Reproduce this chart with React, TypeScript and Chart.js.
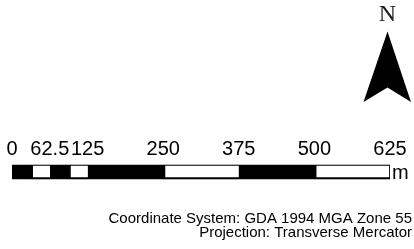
import React, { useEffect, useRef } from "react";
import { Chart, registerables } from "chart.js";

Chart.register(...registerables);

// Scale bar data (metres)
const tickValues: number[] = [0, 62.5, 125, 250, 375, 500, 625];
const tickLabels: string[] = ["0", "62.5", "125", "250", "375", "500", "625"];
const barExtent: [number, number] = [0, 625];
const whiteSegments: [number, number][] = [
  [31.25, 62.5],
  [93.75, 125],
  [250, 375],
  [500, 625],
];
const unitLabel = "m";
const northLabel = "N";
const footerLines: string[] = [
  "Coordinate System: GDA 1994 MGA Zone 55",
  "Projection: Transverse Mercator",
];

const decorPlugin = {
  id: "decor",
  afterDraw(chart: any) {
    const ctx = chart.ctx as CanvasRenderingContext2D;
    const xs = chart.scales.x;
    ctx.save();
    ctx.fillStyle = "#000";
    ctx.textBaseline = "alphabetic";

    // tick labels placed through the x scale
    ctx.font = '20px "Liberation Sans", Arial, sans-serif';
    ctx.textAlign = "center";
    tickValues.forEach((v, i) => {
      ctx.fillText(tickLabels[i], xs.getPixelForValue(v), 155);
    });

    // unit label
    ctx.textAlign = "left";
    ctx.fillText(unitLabel, xs.getPixelForValue(barExtent[1]) + 2, 179);

    // north arrow
    ctx.beginPath();
    ctx.moveTo(387.5, 31.5);
    ctx.lineTo(411, 102);
    ctx.lineTo(387.5, 87.5);
    ctx.lineTo(363.5, 102);
    ctx.closePath();
    ctx.fill();
    ctx.font = '24px "Liberation Serif", "Times New Roman", serif';
    ctx.textAlign = "center";
    ctx.fillStyle = "#222";
    ctx.fillText(northLabel, 387.5, 21);

    // footer
    ctx.font = '15px "Liberation Sans", Arial, sans-serif';
    ctx.textAlign = "right";
    ctx.fillStyle = "#000";
    ctx.fillText(footerLines[0], 412, 223);
    ctx.fillText(footerLines[1], 412, 237);
    ctx.restore();
  },
};

export default function App() {
  const ref = useRef<HTMLCanvasElement | null>(null);
  useEffect(() => {
    document.body.style.margin = "0";
    const canvas = ref.current;
    if (!canvas) return;
    const datasets: any[] = [
      {
        label: "base",
        data: [barExtent],
        backgroundColor: "#000",
        borderWidth: 0,
        barThickness: 14,
        grouped: false,
        order: 2,
      },
      ...whiteSegments.map((seg, i) => ({
        label: "w" + i,
        data: [seg],
        backgroundColor: "#fff",
        borderColor: "#000",
        borderSkipped: false,
        borderWidth: {
          left: 2.4,
          top: 1.2,
          bottom: 2.2,
          right: i === whiteSegments.length - 1 ? 1.2 : 0,
        },
        barThickness: 14,
        grouped: false,
        order: 1,
      })),
    ];
    const chart = new Chart(canvas, {
      type: "bar",
      data: { labels: ["scale"], datasets },
      options: {
        indexAxis: "y",
        animation: false,
        responsive: true,
        maintainAspectRatio: false,
        layout: { padding: { left: 12, right: 24, top: 150, bottom: 55 } },
        plugins: { legend: { display: false }, tooltip: { enabled: false } },
        scales: {
          x: {
            type: "linear",
            display: false,
            min: barExtent[0],
            max: barExtent[1],
            afterBuildTicks: (axis: any) => {
              axis.ticks = tickValues.map((v) => ({ value: v }));
            },
          },
          y: { display: false },
        },
      },
      plugins: [decorPlugin],
    });
    return () => chart.destroy();
  }, []);
  return (
    <div style={{ width: 414, height: 249, position: "relative" }}>
      <canvas ref={ref} />
    </div>
  );
}
